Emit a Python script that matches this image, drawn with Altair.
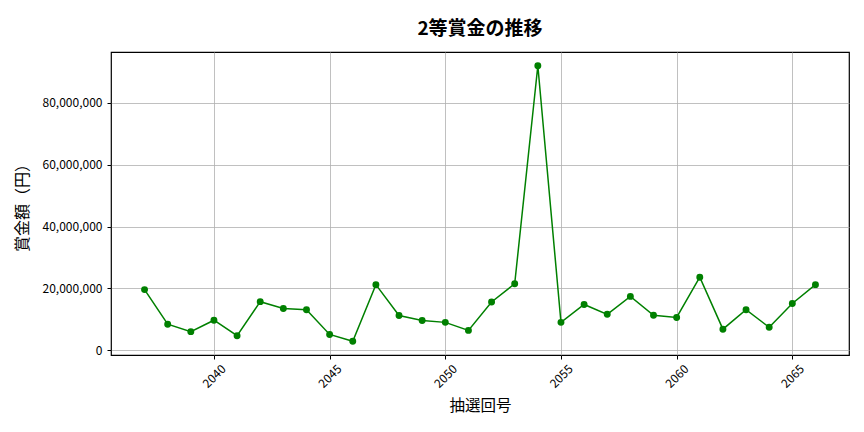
import altair as alt
import pandas as pd

draws = list(range(2037, 2067))
prizes = [19.6, 8.4, 6.0, 9.7, 4.7, 15.7, 13.5, 13.1, 5.1, 2.9,
          21.2, 11.2, 9.6, 9.0, 6.4, 15.6, 21.5, 92.0, 9.0, 14.8,
          11.6, 17.4, 11.3, 10.6, 23.6, 6.8, 13.1, 7.4, 15.1, 21.2]
prizes = [round(v * 1_000_000) for v in prizes]
x_ticks = [2040, 2045, 2050, 2055, 2060, 2065]
y_ticks = [0, 20_000_000, 40_000_000, 60_000_000, 80_000_000]

df = pd.DataFrame({"draw": draws, "prize": prizes})

FONT = "Noto Sans CJK JP"
xr = max(draws) - min(draws)
yr = max(prizes) - min(prizes)
xdom = [min(draws) - 0.05 * xr, max(draws) + 0.05 * xr]
ydom = [min(prizes) - 0.05 * yr, max(prizes) + 0.05 * yr]

x = alt.X("draw:Q", title="抽選回号",
          scale=alt.Scale(domain=xdom, nice=False, zero=False),
          axis=alt.Axis(values=x_ticks, format="d", labelAngle=315,
                        labelAlign="center", labelBaseline="middle",
                        labelFontSize=12, titleFontSize=15.5, titleFontWeight="normal",
                        titlePadding=9, tickSize=4, labelPadding=17,
                        gridColor="#b0b0b0", gridWidth=0.8, labelFlush=False,
                        domain=False, tickColor="#000000", labelColor="#000000"))
y = alt.Y("prize:Q", title="賞金額（円）",
          scale=alt.Scale(domain=ydom, nice=False, zero=False),
          axis=alt.Axis(values=y_ticks, format=",d",
                        labelFontSize=12, titleFontSize=16, titleFontWeight="normal",
                        titlePadding=12, tickSize=4, labelPadding=5,
                        gridColor="#b0b0b0", gridWidth=0.8,
                        domain=False, tickColor="#000000", labelColor="#000000"))

line = alt.Chart(df).mark_line(color="#008000", strokeWidth=1.5).encode(x=x, y=y)
pts = alt.Chart(df).mark_circle(color="#008000", size=48, opacity=1).encode(x=x, y=y)

chart = (line + pts).properties(
    width=738, height=303,
    autosize=alt.AutoSizeParams(type="none"),
    padding={"left": 103, "top": 44, "right": 7, "bottom": 69},
    title=alt.TitleParams("2等賞金の推移", fontSize=19, fontWeight="bold",
                          font=FONT, anchor="middle", offset=13, color="#000000"),
).configure(font=FONT).configure_view(stroke="#000000", strokeWidth=1.2)

chart.save("out.html", embed_options={"renderer": "svg", "actions": False})
